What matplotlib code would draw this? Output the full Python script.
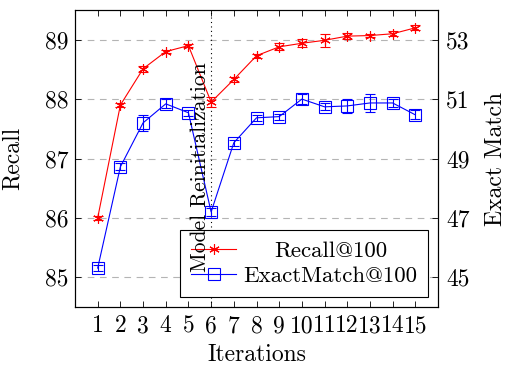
import matplotlib
matplotlib.use("Agg")
import matplotlib.pyplot as plt
from matplotlib.lines import Line2D
from matplotlib.transforms import Affine2D

plt.rcParams['font.family'] = ['cmr10', 'DejaVu Serif']
plt.rcParams['mathtext.fontset'] = 'cm'
plt.rcParams['axes.formatter.use_mathtext'] = True

iterations = list(range(1, 16))
recall = [86.0, 87.9, 88.51, 88.8, 88.9, 87.95, 88.33, 88.73, 88.88, 88.94, 88.99, 89.06, 89.07, 89.1, 89.2]
recall_err = [0.03, 0.03, 0.05, 0.03, 0.03, 0.09, 0.04, 0.03, 0.06, 0.07, 0.11, 0.05, 0.03, 0.04, 0.04]
exact = [45.31, 48.72, 50.2, 50.84, 50.54, 47.2, 49.53, 50.37, 50.41, 51.0, 50.74, 50.77, 50.87, 50.87, 50.47]
exact_err = [0.1, 0.12, 0.28, 0.15, 0.1, 0.12, 0.1, 0.1, 0.1, 0.18, 0.12, 0.25, 0.3, 0.15, 0.15]
left_ticks = [85, 86, 87, 88, 89]
right_ticks = [45, 47, 49, 51, 53]
reinit_at = 6

W, H = 506, 365
fig = plt.figure(figsize=(W / 100, H / 100), dpi=100)
ax = fig.add_axes([75 / W, 1 - 307 / H, (438 - 75) / W, (307 - 10) / H])
ax2 = ax.twinx()

fs = 17
ax.set_xlim(0, 16)
ax.set_ylim(84.5, 89.5)
ax2.set_ylim(44, 54)
ax.set_xticks(iterations)
ax.set_xticklabels([str(i) for i in iterations], fontsize=fs)
ax.set_yticks(left_ticks)
ax.set_yticklabels([str(v) for v in left_ticks], fontsize=fs)
ax2.set_yticks(right_ticks)
ax2.set_yticklabels([str(v) for v in right_ticks], fontsize=fs)
ax.tick_params(axis='x', direction='in', top=True, length=4, width=0.6, pad=6)
ax.tick_params(axis='y', direction='in', length=4, width=0.6, pad=5)
ax2.tick_params(axis='y', direction='in', length=4, width=0.6, pad=6)
for a in (ax, ax2):
    for s in a.spines.values():
        s.set_linewidth(0.8)

ax.grid(axis='y', color='#b4b4b4', linestyle=(0, (6, 5)), linewidth=0.8)
ax.set_axisbelow(True)

ax.axvline(reinit_at, color='black', linestyle=(0, (1, 3)), linewidth=0.8, zorder=1)

ast = (6, 2, 0)
ax.errorbar(iterations, recall, yerr=recall_err, color='red', marker=ast,
            markersize=7.5, markeredgewidth=0.8, markeredgecolor='red', linewidth=0.8,
            capsize=3.6, elinewidth=0.8, capthick=0.8, ecolor='red', zorder=3)
ax2.errorbar(iterations, exact, yerr=exact_err, color='blue', marker='s', fillstyle='none',
             markersize=8, markeredgewidth=0.8, markeredgecolor='blue', linewidth=0.8,
             capsize=3.6, elinewidth=0.8, capthick=0.8, ecolor='blue', zorder=3)

ax.set_xlabel('Iterations', fontsize=fs)
ax.set_ylabel('Recall', fontsize=fs)
ax2.set_ylabel('Exact Match', fontsize=fs)
ax.xaxis.set_label_coords(0.5, -0.125)
ax.yaxis.set_label_coords(-0.14, 0.5)
ax2.yaxis.set_label_coords(1.13, 0.5)

handles = [
    Line2D([], [], color='red', marker=ast, markersize=7.5, markeredgewidth=0.8, linewidth=0.8),
    Line2D([], [], color='blue', marker='s', fillstyle='none', markersize=8, markeredgewidth=0.8, linewidth=0.8),
]
leg = ax2.legend(handles, ['Recall@100', 'ExactMatch@100'], loc='lower right', fontsize=16.5,
                 frameon=True, fancybox=False, edgecolor='black', framealpha=1,
                 borderaxespad=0.45, handlelength=2.0, handletextpad=0.3, labelspacing=0.25,
                 borderpad=0.45)
leg.get_frame().set_linewidth(0.8)
leg.set_zorder(5)

ax2.annotate('Model Reinitialization', xy=(reinit_at, 48.72), xytext=(-0.5, 0),
             textcoords='offset points', rotation=90, ha='right', va='center',
             fontsize=15.5, zorder=10)

# center the legend entries like the reference
fig.canvas.draw()
r = fig.canvas.get_renderer()
texts = leg.get_texts()
widths = [t.get_window_extent(r).width for t in texts]
wmax = max(widths)
for t, w in zip(texts, widths):
    dx = (wmax - w) / 2
    if dx > 0:
        t.set_transform(t.get_transform() + Affine2D().translate(dx, 0))

fig.savefig('out.png', dpi=100)
